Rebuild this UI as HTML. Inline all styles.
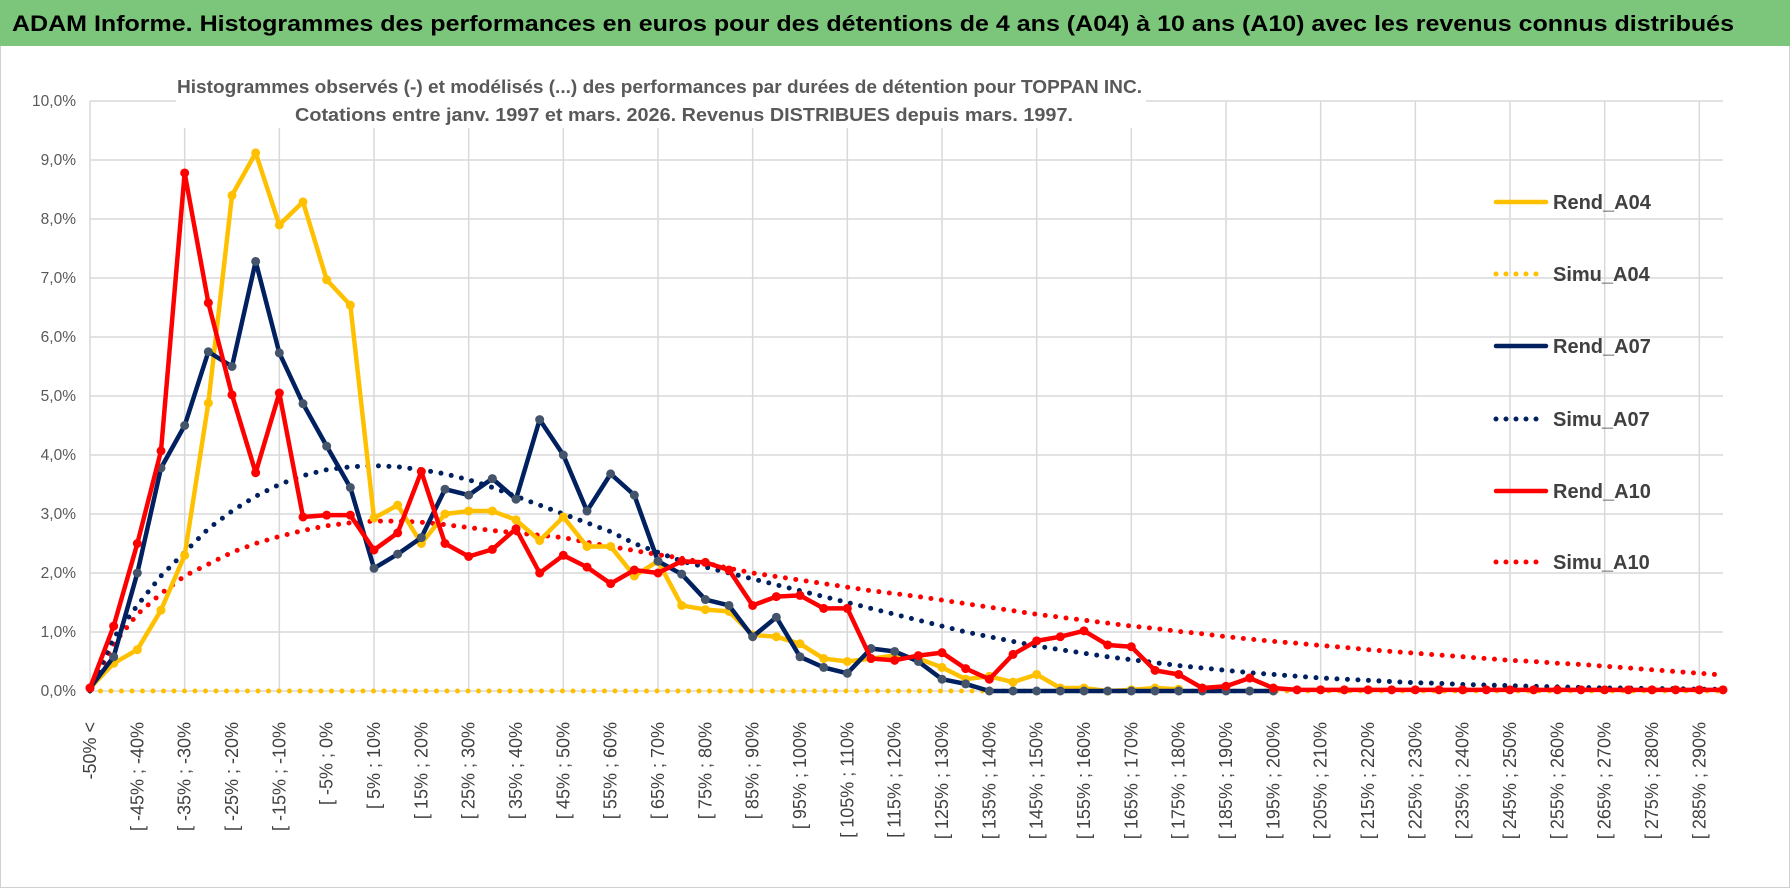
<!DOCTYPE html>
<html><head><meta charset="utf-8"><style>
html,body{margin:0;padding:0;background:#fff}
svg{display:block;font-family:"Liberation Sans",sans-serif}
</style></head><body>
<svg id="chart" width="1790" height="888" viewBox="0 0 1790 888" xmlns="http://www.w3.org/2000/svg">
<rect x="0.5" y="0.5" width="1789" height="887" fill="#fff" stroke="#d0d0d0"/>
<rect x="0" y="0" width="1790" height="46" fill="#7cc67b"/>
<text x="12" y="31" font-size="22" font-weight="bold" fill="#000" textLength="1722" lengthAdjust="spacingAndGlyphs">ADAM Informe. Histogrammes des performances en euros pour des détentions de 4 ans (A04) à 10 ans (A10) avec les revenus connus distribués</text>
<g id="grid"></g>
<g id="ylabels"></g>
<g id="xlabels"></g>
<g id="series"></g>
<rect x="176" y="70" width="970" height="58" fill="#fff"/>
<text x="177" y="93" font-size="18" font-weight="bold" fill="#595959" textLength="965" lengthAdjust="spacingAndGlyphs">Histogrammes observés (-) et modélisés (...) des performances par durées de détention pour TOPPAN INC.</text>
<text x="295" y="121" font-size="18" font-weight="bold" fill="#595959" textLength="778" lengthAdjust="spacingAndGlyphs">Cotations entre janv. 1997 et mars. 2026. Revenus DISTRIBUES depuis mars. 1997.</text>
<g id="legend"></g>
</svg>
<script>
const NS="http://www.w3.org/2000/svg";
const xLabels=["-50% <","[ -45% ; -40%","[ -35% ; -30%","[ -25% ; -20%","[ -15% ; -10%","[ -5% ; 0%","[ 5% ; 10%","[ 15% ; 20%","[ 25% ; 30%","[ 35% ; 40%","[ 45% ; 50%","[ 55% ; 60%","[ 65% ; 70%","[ 75% ; 80%","[ 85% ; 90%","[ 95% ; 100%","[ 105% ; 110%","[ 115% ; 120%","[ 125% ; 130%","[ 135% ; 140%","[ 145% ; 150%","[ 155% ; 160%","[ 165% ; 170%","[ 175% ; 180%","[ 185% ; 190%","[ 195% ; 200%","[ 205% ; 210%","[ 215% ; 220%","[ 225% ; 230%","[ 235% ; 240%","[ 245% ; 250%","[ 255% ; 260%","[ 265% ; 270%","[ 275% ; 280%","[ 285% ; 290%"];
const yTicks=[0,1,2,3,4,5,6,7,8,9,10];
const nCats=70;
const rendA04=[0.05,0.47,0.7,1.37,2.3,4.88,8.4,9.12,7.9,8.29,6.97,6.54,2.93,3.15,2.5,3.0,3.05,3.05,2.9,2.55,2.95,2.45,2.45,1.95,2.2,1.45,1.38,1.35,0.95,0.92,0.8,0.55,0.5,0.55,0.6,0.55,0.4,0.2,0.25,0.15,0.28,0.05,0.05,0.0,0.02,0.05,0.03];
const simuA04=[0,0,0,0,0,0,0,0,0,0,0,0,0,0,0,0,0,0,0,0,0,0,0,0,0,0,0,0,0,0,0,0,0,0,0,0,0,0,0,0,0,0,0,0,0,0,0,0,0,0,0,0,0,0,0,0,0,0,0,0,0,0,0,0,0,0,0,0,0,0];
const rendA07=[0.05,0.58,2.0,3.78,4.5,5.75,5.5,7.28,5.73,4.87,4.15,3.45,2.08,2.32,2.6,3.42,3.32,3.6,3.25,4.6,4.0,3.05,3.68,3.32,2.2,1.98,1.55,1.45,0.92,1.25,0.58,0.4,0.3,0.72,0.67,0.5,0.2,0.12,0.0,0,0,0,0,0,0,0,0,0,0,0,0];
const simuA07=[0,0.9,1.45,1.95,2.35,2.75,3.05,3.3,3.5,3.65,3.75,3.8,3.82,3.8,3.75,3.68,3.58,3.45,3.3,3.15,3.0,2.85,2.7,2.5,2.35,2.2,2.1,2.0,1.9,1.8,1.7,1.6,1.5,1.4,1.3,1.2,1.1,1.0,0.92,0.84,0.76,0.7,0.64,0.58,0.53,0.48,0.43,0.39,0.35,0.31,0.28,0.25,0.22,0.2,0.18,0.16,0.14,0.13,0.11,0.1,0.09,0.08,0.07,0.06,0.05,0.05,0.04,0.04,0.03,0.03];
const rendA10=[0.05,1.1,2.5,4.07,8.78,6.58,5.02,3.7,5.05,2.95,2.98,2.98,2.39,2.68,3.72,2.5,2.28,2.4,2.75,2.0,2.3,2.1,1.82,2.05,2.0,2.2,2.18,2.05,1.45,1.6,1.62,1.4,1.4,0.55,0.52,0.6,0.65,0.38,0.2,0.62,0.85,0.92,1.02,0.78,0.75,0.35,0.28,0.05,0.08,0.22,0.05,0.02,0.02,0.02,0.02,0.02,0.02,0.02,0.02,0.02,0.02,0.02,0.02,0.02,0.02,0.02,0.02,0.02,0.02,0.02];
const simuA10=[0,0.8,1.3,1.65,1.95,2.15,2.35,2.5,2.62,2.72,2.8,2.85,2.88,2.88,2.86,2.82,2.77,2.72,2.68,2.64,2.6,2.52,2.45,2.38,2.31,2.25,2.17,2.08,2.0,1.94,1.88,1.82,1.76,1.7,1.65,1.6,1.54,1.48,1.42,1.36,1.3,1.25,1.2,1.15,1.1,1.06,1.01,0.97,0.92,0.88,0.84,0.81,0.77,0.74,0.7,0.67,0.64,0.61,0.58,0.55,0.52,0.5,0.47,0.45,0.42,0.39,0.36,0.33,0.3,0.27];
const seriesNames=["Rend_A04","Simu_A04","Rend_A07","Simu_A07","Rend_A10","Simu_A10"];

const X0=90,X1=1723,Y0=691,Y1=101,YMAX=10;
function xS(k){return X0+(X1-X0)*k/(nCats-1);}
function yS(v){return Y0-(Y0-Y1)*v/YMAX;}
function mk(tag,attrs,parent){const e=document.createElementNS(NS,tag);for(const a in attrs)e.setAttribute(a,attrs[a]);parent.appendChild(e);return e;}

const grid=document.getElementById('grid');
yTicks.forEach(t=>{
  const l=mk('line',{x1:X0,x2:X1,y1:yS(t),y2:yS(t),stroke:'#d9d9d9','stroke-width':1.5},grid);
  
  
  const tx=mk('text',{x:76,y:yS(t)+5,'text-anchor':'end','font-size':15.5,fill:'#595959'},document.getElementById('ylabels'));
  tx.textContent=t.toFixed(1).replace('.',',')+'%';
  
  
});
for(let k=0;k<nCats;k+=4){
  const l=mk('line',{x1:xS(k),x2:xS(k),y1:Y1,y2:Y0,stroke:'#d9d9d9','stroke-width':1.5},grid);
  
  
}
const xl=document.getElementById('xlabels');
xLabels.forEach((s,i)=>{
  const x=xS(i*2)+6,y=722;
  const t=mk('text',{x:x,y:y,'text-anchor':'end','font-size':18,fill:'#404040',transform:`rotate(-90 ${x} ${y})`},xl);
  t.textContent=s;
  
  
});

const ser=document.getElementById('series');
function drawDotted(data,color,name){
  const pts=data.map((v,k)=>xS(k)+','+yS(v)).join(' ');
  const p=mk('polyline',{points:pts,fill:'none',stroke:color,'stroke-width':5,'stroke-linecap':'round','stroke-dasharray':'0 10.5'},ser);
  
  
}
function drawRend(data,color,mcolor,name){
  const pts=data.map((v,k)=>xS(k)+','+yS(v)).join(' ');
  const p=mk('polyline',{points:pts,fill:'none',stroke:color,'stroke-width':4.5,'stroke-linejoin':'round'},ser);
  
  
  data.forEach((v,k)=>{
    const c=mk('circle',{cx:xS(k),cy:yS(v),r:4.5,fill:mcolor},ser);
    
    
  });
}
drawDotted(simuA04,'#ffc000','simu-a04-line');
drawDotted(simuA10,'#ff0000','simu-a10-line');
drawDotted(simuA07,'#002060','simu-a07-line');
drawRend(rendA04,'#ffc000','#ffc000','rend-a04-line');
drawRend(rendA07,'#002060','#44546a','rend-a07-line');
drawRend(rendA10,'#ff0000','#ff0000','rend-a10-line');

const lg=document.getElementById('legend');
const lys=[202,274,346,419,491,562];
const lcol=['#ffc000','#ffc000','#002060','#002060','#ff0000','#ff0000'];
seriesNames.forEach((n,i)=>{
  const y=lys[i];
  const l=mk('line',{x1:1496,x2:1546,y1:y,y2:y,stroke:lcol[i],'stroke-width':i%2?5:4.5,'stroke-linecap':'round'},lg);
  if(i%2)l.setAttribute('stroke-dasharray','0 10');
  
  
  const t=mk('text',{x:1553,y:y+7,'font-size':20,'font-weight':'bold',fill:'#404040'},lg);
  t.textContent=n;
  
  
});
</script>
</body></html>
